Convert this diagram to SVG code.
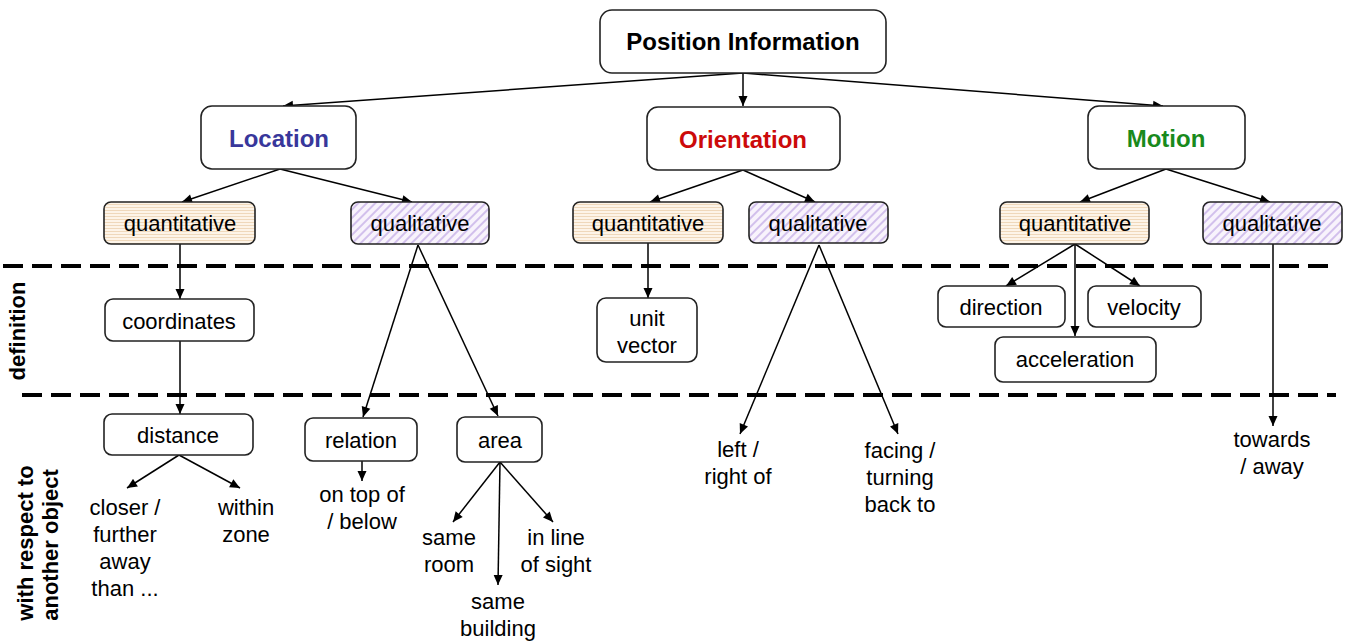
<svg xmlns="http://www.w3.org/2000/svg" width="1348" height="641" viewBox="0 0 1348 641">
<defs>
<style>
text{font-family:"Liberation Sans",Arial,sans-serif;fill:#000}
.t{font-size:22px;text-anchor:middle}
.h{font-size:24px;font-weight:bold;text-anchor:middle}
.side{font-size:22px;font-weight:bold;text-anchor:middle}
.box{fill:#fff;stroke:#222;stroke-width:1.6}
.qn{fill:url(#hstripe);stroke:#222;stroke-width:1.6}
.ql{fill:url(#dstripe);stroke:#222;stroke-width:1.6}
.c{stroke:#000;stroke-width:1.5;fill:none;marker-end:url(#ah)}
.dash{stroke:#000;stroke-width:4;stroke-dasharray:20 9;fill:none}
</style>
<marker id="ah" viewBox="0 0 10 10" refX="10" refY="5" markerWidth="11" markerHeight="10" markerUnits="userSpaceOnUse" orient="auto">
<path d="M0,0.5 L10,5 L0,9.5 z" fill="#000"/>
</marker>
<pattern id="hstripe" width="4" height="3" patternUnits="userSpaceOnUse">
<rect width="4" height="3" fill="#fdf4e8"/><rect width="4" height="1" fill="#efd8bb"/>
</pattern>
<pattern id="dstripe" width="6" height="6" patternUnits="userSpaceOnUse" patternTransform="rotate(45)">
<rect width="6" height="6" fill="#f8f3fc"/><rect width="2" height="6" fill="#d2c0ec"/>
</pattern>
</defs>
<rect width="1348" height="641" fill="#fff"/>

<g id="dividers">
<line class="dash" x1="3" y1="266" x2="1336" y2="266"/>
<line class="dash" x1="22" y1="395" x2="1336" y2="395"/>
</g>

<g id="side-labels">
<text class="side" transform="translate(25,331) rotate(-90)">definition</text>
<text class="side" transform="translate(33,543) rotate(-90)">with respect to</text>
<text class="side" transform="translate(58,545) rotate(-90)">another object</text>
</g>

<g id="connectors">
<line class="c" x1="743" y1="73" x2="283" y2="106"/>
<line class="c" x1="743" y1="73" x2="743" y2="106"/>
<line class="c" x1="743" y1="73" x2="1163" y2="106"/>
<line class="c" x1="280" y1="169" x2="182" y2="202"/>
<line class="c" x1="280" y1="169" x2="412" y2="202"/>
<line class="c" x1="743" y1="170" x2="650" y2="202"/>
<line class="c" x1="743" y1="170" x2="815" y2="202"/>
<line class="c" x1="1166" y1="169" x2="1080" y2="202"/>
<line class="c" x1="1166" y1="169" x2="1270" y2="202"/>
<line class="c" x1="180" y1="244" x2="180" y2="299"/>
<line class="c" x1="180" y1="341" x2="180" y2="414"/>
<line class="c" x1="179" y1="455" x2="127" y2="488"/>
<line class="c" x1="179" y1="455" x2="240" y2="488"/>
<line class="c" x1="418" y1="245" x2="363" y2="417"/>
<line class="c" x1="418" y1="245" x2="498" y2="416"/>
<line class="c" x1="362" y1="461" x2="362" y2="481"/>
<line class="c" x1="500" y1="462" x2="453" y2="522"/>
<line class="c" x1="500" y1="462" x2="498" y2="585"/>
<line class="c" x1="500" y1="462" x2="553" y2="522"/>
<line class="c" x1="648" y1="243" x2="648" y2="298"/>
<line class="c" x1="819" y1="245" x2="740" y2="434"/>
<line class="c" x1="819" y1="245" x2="898" y2="434"/>
<line class="c" x1="1075" y1="244" x2="1006" y2="286"/>
<line class="c" x1="1075" y1="244" x2="1140" y2="286"/>
<line class="c" x1="1075" y1="244" x2="1075" y2="336"/>
<line class="c" x1="1273" y1="244" x2="1273" y2="426"/>
</g>

<g id="n-position"><rect class="box" x="600" y="10" width="286" height="63" rx="12"/><text class="h" x="743" y="50">Position Information</text></g>
<g id="n-location"><rect class="box" x="201" y="106" width="155" height="63" rx="11"/><text class="h" x="279" y="147" style="fill:#38379b">Location</text></g>
<g id="n-orientation"><rect class="box" x="647" y="107" width="193" height="63" rx="11"/><text class="h" x="743" y="148" style="fill:#cc0a0a">Orientation</text></g>
<g id="n-motion"><rect class="box" x="1088" y="106" width="157" height="63" rx="11"/><text class="h" x="1166" y="147" style="fill:#198a1c">Motion</text></g>

<g id="n-loc-quant"><rect class="qn" x="104" y="202" width="151" height="42" rx="7"/><text class="t" x="180" y="231">quantitative</text></g>
<g id="n-loc-qual"><rect class="ql" x="351" y="202" width="138" height="42" rx="7"/><text class="t" x="420" y="231">qualitative</text></g>
<g id="n-ori-quant"><rect class="qn" x="573" y="202" width="150" height="41" rx="7"/><text class="t" x="648" y="231">quantitative</text></g>
<g id="n-ori-qual"><rect class="ql" x="749" y="202" width="139" height="41" rx="7"/><text class="t" x="818" y="231">qualitative</text></g>
<g id="n-mot-quant"><rect class="qn" x="1000" y="202" width="149" height="42" rx="7"/><text class="t" x="1075" y="231">quantitative</text></g>
<g id="n-mot-qual"><rect class="ql" x="1203" y="202" width="139" height="42" rx="7"/><text class="t" x="1272" y="231">qualitative</text></g>

<g id="n-coordinates"><rect class="box" x="105" y="299" width="149" height="42" rx="8"/><text class="t" x="179" y="329">coordinates</text></g>
<g id="n-distance"><rect class="box" x="104" y="414" width="149" height="41" rx="8"/><text class="t" x="178" y="443">distance</text></g>
<g id="n-relation"><rect class="box" x="305" y="418" width="112" height="43" rx="8"/><text class="t" x="361" y="448">relation</text></g>
<g id="n-area"><rect class="box" x="457" y="417" width="85" height="45" rx="8"/><text class="t" x="500" y="448">area</text></g>
<g id="n-unit-vector"><rect class="box" x="597" y="298" width="100" height="64" rx="9"/><text class="t" x="647" y="326">unit</text><text class="t" x="647" y="353">vector</text></g>
<g id="n-direction"><rect class="box" x="938" y="286" width="127" height="41" rx="8"/><text class="t" x="1001" y="315">direction</text></g>
<g id="n-velocity"><rect class="box" x="1088" y="286" width="113" height="41" rx="8"/><text class="t" x="1144" y="315">velocity</text></g>
<g id="n-acceleration"><rect class="box" x="995" y="337" width="161" height="45" rx="8"/><text class="t" x="1075" y="367">acceleration</text></g>

<g id="n-closer"><text class="t" x="125" y="515">closer /</text><text class="t" x="125" y="542">further</text><text class="t" x="125" y="569">away</text><text class="t" x="125" y="596">than ...</text></g>
<g id="n-within"><text class="t" x="246" y="515">within</text><text class="t" x="246" y="542">zone</text></g>
<g id="n-ontop"><text class="t" x="362" y="502">on top of</text><text class="t" x="362" y="529">/ below</text></g>
<g id="n-sameroom"><text class="t" x="449" y="545">same</text><text class="t" x="449" y="572">room</text></g>
<g id="n-lineofsight"><text class="t" x="556" y="545">in line</text><text class="t" x="556" y="572">of sight</text></g>
<g id="n-samebuilding"><text class="t" x="498" y="609">same</text><text class="t" x="498" y="636">building</text></g>
<g id="n-leftright"><text class="t" x="738" y="457">left /</text><text class="t" x="738" y="484">right of</text></g>
<g id="n-facing"><text class="t" x="900" y="458">facing /</text><text class="t" x="900" y="485">turning</text><text class="t" x="900" y="512">back to</text></g>
<g id="n-towards"><text class="t" x="1272" y="447">towards</text><text class="t" x="1272" y="474">/ away</text></g>
</svg>
